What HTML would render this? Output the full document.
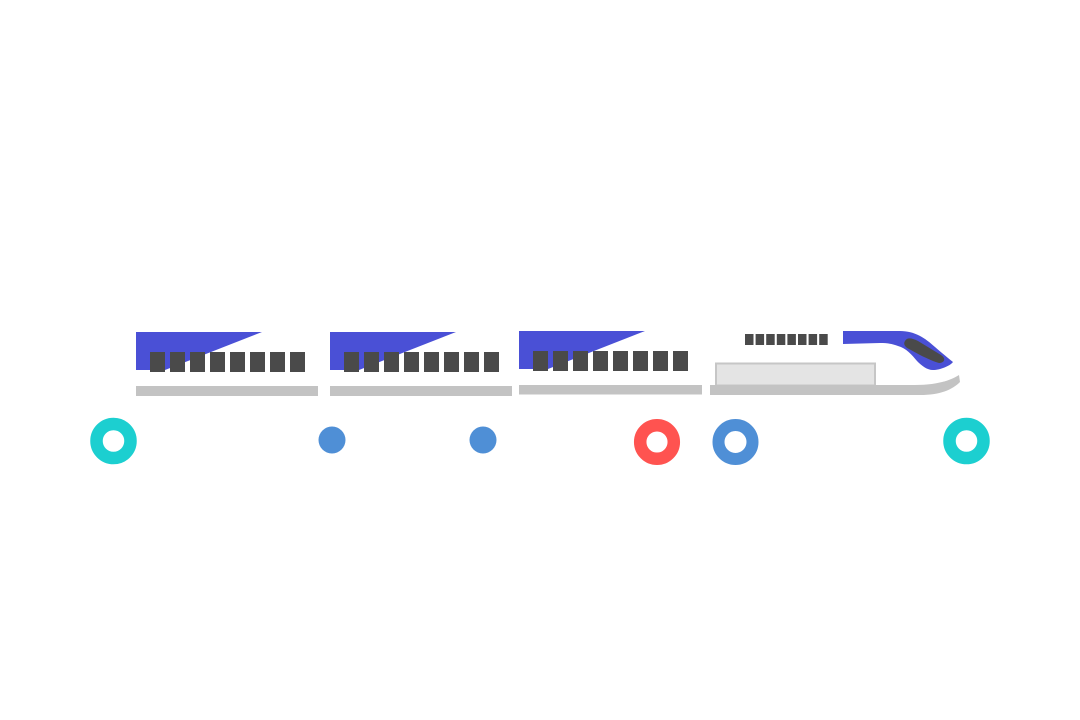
<!DOCTYPE html>
<html>
<head>
<meta charset="utf-8">
<style>
html,body{margin:0;padding:0;background:#ffffff;}
svg{display:block;}
</style>
</head>
<body>
<svg width="1080" height="720" viewBox="0 0 1080 720" xmlns="http://www.w3.org/2000/svg">
<rect width="1080" height="720" fill="#ffffff"/>
<defs>
<g id="win8">
<rect x="0" y="0" width="15" height="20" fill="#4a4a4a"/>
<rect x="20" y="0" width="15" height="20" fill="#4a4a4a"/>
<rect x="40" y="0" width="15" height="20" fill="#4a4a4a"/>
<rect x="60" y="0" width="15" height="20" fill="#4a4a4a"/>
<rect x="80" y="0" width="15" height="20" fill="#4a4a4a"/>
<rect x="100" y="0" width="15" height="20" fill="#4a4a4a"/>
<rect x="120" y="0" width="15" height="20" fill="#4a4a4a"/>
<rect x="140" y="0" width="15" height="20" fill="#4a4a4a"/>
</g>
</defs>

<!-- Car 1 -->
<polygon points="136,332 262,332 165,370 136,370" fill="#4a50d6"/>
<use href="#win8" x="150" y="352"/>
<rect x="136" y="386" width="182" height="10" fill="#c3c3c3"/>

<!-- Car 2 -->
<polygon points="330,332 456,332 359,370 330,370" fill="#4a50d6"/>
<use href="#win8" x="344" y="352"/>
<rect x="330" y="386" width="182" height="10" fill="#c3c3c3"/>

<!-- Car 3 -->
<polygon points="519,331 645,331 548,369 519,369" fill="#4a50d6"/>
<use href="#win8" x="533" y="351"/>
<rect x="519" y="385" width="183" height="9.5" fill="#c3c3c3"/>

<!-- Locomotive -->
<g fill="#4a4a4a">
<rect x="745" y="334" width="8.5" height="11"/>
<rect x="755.6" y="334" width="8.5" height="11"/>
<rect x="766.2" y="334" width="8.5" height="11"/>
<rect x="776.8" y="334" width="8.5" height="11"/>
<rect x="787.4" y="334" width="8.5" height="11"/>
<rect x="798" y="334" width="8.5" height="11"/>
<rect x="808.6" y="334" width="8.5" height="11"/>
<rect x="819.2" y="334" width="8.5" height="11"/>
</g>
<!-- blue nose stripe -->
<path d="M843,331 L900,331 C915,331 925,338 935,347 C942,353 948,358 953,362 C950,366 940,370 933,370 C927,370 922,366 917,361 C912,355 906,348 898,346 C893,344 888,343 880,343 L843,344 Z" fill="#4a50d6"/>
<!-- nose window -->
<path d="M905,341 C907,337 912,338 918,341 L941,355 C946,358 945,363 939,363 C935,362 928,359 920,355 L909,349 C905,347 903,344 905,341 Z" fill="#4a4a4a"/>
<!-- body box -->
<rect x="716" y="363.5" width="159" height="22" fill="#e4e4e4" stroke="#c6c6c6" stroke-width="2"/>
<!-- base swoosh -->
<path d="M710,385 L915,385 C935,385 950,381 959,375 L960,382 C952,390 940,395 920,395 L710,395 Z" fill="#c3c3c3"/>

<!-- Circles -->
<circle cx="113.5" cy="441" r="17" fill="none" stroke="#1ccfd0" stroke-width="12.5"/>
<circle cx="332" cy="440" r="13.5" fill="#4f8fd6"/>
<circle cx="483" cy="440" r="13.5" fill="#4f8fd6"/>
<circle cx="657" cy="442" r="16.8" fill="none" stroke="#ff5350" stroke-width="12.5"/>
<circle cx="735.5" cy="442" r="17" fill="none" stroke="#4f8fd6" stroke-width="12"/>
<circle cx="966.5" cy="441" r="17" fill="none" stroke="#1ccfd0" stroke-width="12.5"/>
</svg>
</body>
</html>
